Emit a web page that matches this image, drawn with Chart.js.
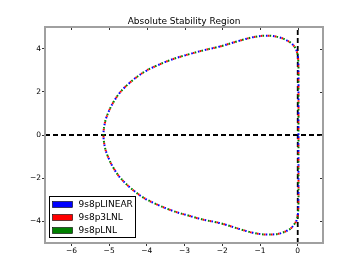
<!DOCTYPE html>
<html>
<head>
<meta charset="utf-8">
<script src="https://cdn.jsdelivr.net/npm/chart.js@4.4.1/dist/chart.umd.min.js"></script>
<style>
    html, body { margin: 0; padding: 0; background: #fff; }
    #wrap { width: 360px; height: 270px; }
</style>
</head>
<body>
<div id="wrap"><canvas id="stabilityChart" width="360" height="270"></canvas></div>
<script>
const chartTitle = "Absolute Stability Region";
const seriesNames = ["9s8pLINEAR", "9s8p3LNL", "9s8pLNL"];

// boundary of the region (all three methods coincide)
const boundaryRe = [0.02, 0.02, 0.02, 0.02, 0.01, -0.03, -0.10, -0.21, -0.48, -0.83, -1.18, -1.53, -2.06, -2.50, -2.86, -3.30, -3.74, -4.09, -4.44, -4.71, -4.89, -5.02, -5.11, -5.15,
    -5.11, -5.02, -4.89, -4.71, -4.44, -4.09, -3.74, -3.30, -2.86, -2.50, -2.06, -1.53, -1.18, -0.83, -0.48, -0.21, -0.10, -0.03, 0.01, 0.02, 0.02, 0.02, 0.02];
const boundaryIm = [0, 1.0, 2.0, 3.0, 3.55, 3.90, 4.12, 4.30, 4.52, 4.60, 4.53, 4.37, 4.10, 3.92, 3.75, 3.52, 3.21, 2.90, 2.44, 1.97, 1.51, 1.05, 0.58, 0,
    -0.58, -1.05, -1.51, -1.97, -2.44, -2.90, -3.21, -3.52, -3.75, -3.92, -4.08, -4.36, -4.53, -4.61, -4.56, -4.36, -4.15, -3.95, -3.58, -3.0, -2.0, -1.0, 0];

const xLimits = [-6.7, 0.67];
const yLimits = [-5, 5];
const xTicks = [-6, -5, -4, -3, -2, -1, 0];
const yTicks = [-4, -2, 0, 2, 4];

const seriesColors = ["#0000ff", "#ff0000", "#008000"];
const fontFamily = "'DejaVu Sans', sans-serif";

function toPoints(xs, ys) {
    return xs.map((x, i) => ({ x: x, y: ys[i] }));
}

function fmtTick(v) {
    return String(v).replace("-", "\u2212");
}

const curveSets = seriesNames.map((name, i) => ({
    label: name,
    data: toPoints(boundaryRe, boundaryIm),
    showLine: true,
    borderColor: seriesColors[i],
    borderWidth: 2,
    borderDash: [1.6, 5.4],
    borderDashOffset: i * 1.8,
    pointRadius: 0,
    tension: 0.35,
    order: 3 - i
}));

const refLines = [
    { data: toPoints(xLimits, [0, 0]) },
    { data: toPoints([0, 0], yLimits) }
].map((d) => ({
    label: "",
    data: d.data,
    showLine: true,
    borderColor: "#000",
    borderWidth: 1.8,
    borderDash: [5, 3],
    pointRadius: 0,
    order: 10
}));

const framePlugin = {
    id: "frame",
    afterDraw(chart) {
        const ctx = chart.ctx;
        const a = chart.chartArea;
        const xs = chart.scales.x;
        const ys = chart.scales.y;
        ctx.save();

        // inward ticks on top and right
        ctx.strokeStyle = "#333";
        ctx.lineWidth = 1;
        xTicks.forEach((v) => {
            const px = Math.round(xs.getPixelForValue(v)) + 0.5;
            ctx.beginPath();
            ctx.moveTo(px, a.top);
            ctx.lineTo(px, a.top + 3);
            ctx.stroke();
        });
        yTicks.forEach((v) => {
            const py = Math.round(ys.getPixelForValue(v)) + 0.5;
            ctx.beginPath();
            ctx.moveTo(a.right, py);
            ctx.lineTo(a.right - 3, py);
            ctx.stroke();
        });

        // grey frame
        ctx.strokeStyle = "#a0a0a0";
        ctx.lineWidth = 2;
        ctx.strokeRect(a.left, a.top, a.right - a.left, a.bottom - a.top);

        // title
        ctx.fillStyle = "#000";
        ctx.font = "9px " + fontFamily;
        ctx.textAlign = "center";
        ctx.textBaseline = "alphabetic";
        ctx.fillText(chartTitle, (a.left + a.right) / 2, 24);

        // legend box, lower left
        const bx = a.left + 4.5;
        const by = a.bottom - 46.5;
        ctx.fillStyle = "#fff";
        ctx.fillRect(bx, by, 86, 41);
        ctx.strokeStyle = "#000";
        ctx.lineWidth = 1;
        ctx.strokeRect(bx, by, 86, 41);
        ctx.textAlign = "left";
        ctx.textBaseline = "middle";
        seriesNames.forEach((name, i) => {
            const cy = by + 8 + i * 13;
            ctx.fillStyle = seriesColors[i];
            ctx.fillRect(bx + 3, cy - 3, 20, 6);
            ctx.lineWidth = 0.6;
            ctx.strokeStyle = "#000";
            ctx.strokeRect(bx + 3, cy - 3, 20, 6);
            ctx.fillStyle = "#000";
            ctx.font = "9px " + fontFamily;
            ctx.fillText(name, bx + 29, cy + 0.5);
        });
        ctx.restore();
    }
};

new Chart(document.getElementById("stabilityChart"), {
    type: "scatter",
    data: { datasets: curveSets.concat(refLines) },
    options: {
        responsive: false,
        devicePixelRatio: 1,
        animation: false,
        layout: { padding: { top: 27, right: 37, left: 0, bottom: 0 } },
        plugins: {
            legend: { display: false },
            title: { display: false },
            tooltip: { enabled: false }
        },
        scales: {
            x: {
                type: "linear",
                min: xLimits[0],
                max: xLimits[1],
                afterBuildTicks: (scale) => { scale.ticks = xTicks.map((v) => ({ value: v })); },
                afterFit: (scale) => { scale.height = 27; },
                border: { display: false },
                grid: { drawOnChartArea: false, tickLength: 3, color: "#333" },
                ticks: {
                    color: "#000",
                    padding: 1,
                    maxRotation: 0,
                    font: { family: fontFamily, size: 7.5 },
                    callback: (v) => fmtTick(v)
                }
            },
            y: {
                type: "linear",
                min: yLimits[0],
                max: yLimits[1],
                afterBuildTicks: (scale) => { scale.ticks = yTicks.map((v) => ({ value: v })); },
                afterFit: (scale) => { scale.width = 45; },
                border: { display: false },
                grid: { drawOnChartArea: false, tickLength: 3, color: "#333" },
                ticks: {
                    color: "#000",
                    padding: 1,
                    font: { family: fontFamily, size: 7.5 },
                    callback: (v) => fmtTick(v)
                }
            }
        }
    },
    plugins: [framePlugin]
});
</script>
</body>
</html>
